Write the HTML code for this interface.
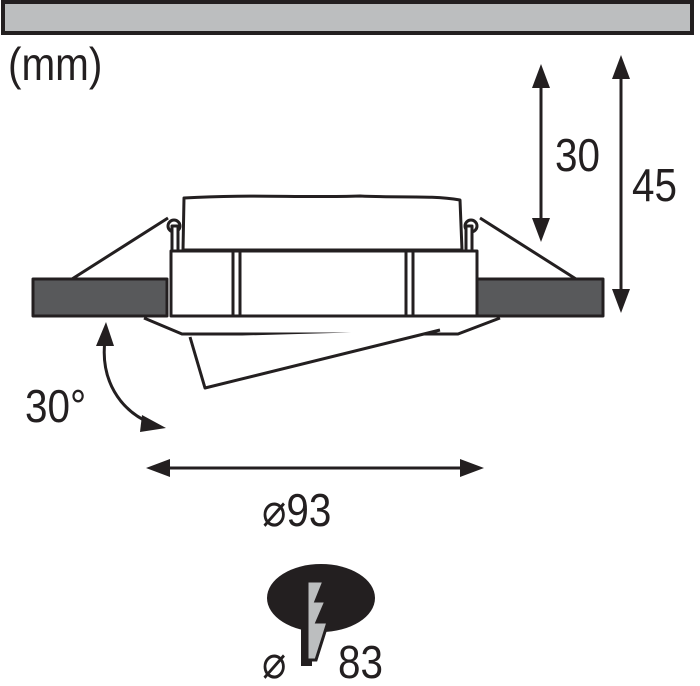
<!DOCTYPE html>
<html><head><meta charset="utf-8"><style>
html,body{margin:0;padding:0;background:#fff;width:700px;height:686px;overflow:hidden}
svg{display:block}
text{font-family:"Liberation Sans",sans-serif;fill:#231f20}
</style></head><body>
<svg width="700" height="686" viewBox="0 0 700 686" xmlns="http://www.w3.org/2000/svg">
<g stroke="#231f20" stroke-width="3" fill="none">
<rect x="3" y="2" width="689" height="31" fill="#bcbebf" stroke-width="4"/>
</g>
<text x="8" y="80" font-size="46" transform="translate(8,0) scale(0.88,1) translate(-8,0)">(mm)</text>
<!-- 30 arrow -->
<line x1="541" y1="85" x2="541" y2="220" stroke="#231f20" stroke-width="3"/>
<polygon points="541,64 532,88 550,88" fill="#231f20"/>
<polygon points="541,242 532,218 550,218" fill="#231f20"/>
<text x="555" y="171" font-size="46" transform="translate(555,0) scale(0.88,1) translate(-555,0)">30</text>
<!-- 45 arrow -->
<line x1="621" y1="75" x2="621" y2="292" stroke="#231f20" stroke-width="3"/>
<polygon points="621,55 612,79 630,79" fill="#231f20"/>
<polygon points="621,313 612,289 630,289" fill="#231f20"/>
<text x="632" y="201" font-size="46" transform="translate(632,0) scale(0.88,1) translate(-632,0)">45</text>
<!-- fixture -->
<g stroke="#231f20" stroke-width="3" fill="#fff" stroke-linejoin="round">
<path d="M72,279 L168,218 M480,218 L576,279" fill="none"/>
<path d="M183,250 L184,198 C250,194 300,198 360,196 C400,198 430,195 460,200 L462,250 Z"/>
<circle cx="174" cy="226" r="6"/><circle cx="471" cy="226" r="6"/>
<rect x="172" y="226" width="6" height="25"/><rect x="466" y="226" width="6" height="25"/>
<path d="M144,318 L182,334 L458,334 L500,318"/>
<path d="M190,337 L205,388 L440,330"/>
<rect x="171" y="251" width="306" height="65"/>
<path d="M233,251 V316 M240,251 V316 M406,251 V316 M413,251 V316" fill="none"/>
<rect x="33" y="279" width="134" height="37" fill="#58595b"/>
<rect x="477" y="279" width="126" height="37" fill="#58595b"/>
</g>
<!-- 30 degree curved arrow -->
<path d="M105,340 C100,380 120,410 150,423" fill="none" stroke="#231f20" stroke-width="3"/>
<polygon points="106,322 96,346 114,346" fill="#231f20"/>
<polygon points="166,428 142,415 140,432" fill="#231f20"/>
<text x="25" y="422" font-size="46" transform="translate(25,0) scale(0.88,1) translate(-25,0)">30°</text>
<!-- 93 arrow -->
<line x1="165" y1="468" x2="465" y2="468" stroke="#231f20" stroke-width="3"/>
<polygon points="146,468 170,459 170,477" fill="#231f20"/>
<polygon points="484,468 460,459 460,477" fill="#231f20"/>
<text x="262" y="526" font-size="46" transform="translate(262,0) scale(0.88,1) translate(-262,0)">⌀93</text>
<!-- hole symbol -->
<ellipse cx="321" cy="598" rx="54" ry="34" fill="#231f20"/>
<polygon points="301,620 312,620 312,666 301,666" fill="#231f20"/>
<path d="M307,581 L324,581 L316,601 L326,601 L317,622 L328,622 L316,660 L307,660 Z" fill="#bcbebf" stroke="#231f20" stroke-width="3" stroke-linejoin="miter"/>
<text x="262" y="678" font-size="46" transform="translate(262,0) scale(0.88,1) translate(-262,0)">⌀</text>
<text x="338" y="678" font-size="46" transform="translate(338,0) scale(0.88,1) translate(-338,0)">83</text>
</svg>
</body></html>
